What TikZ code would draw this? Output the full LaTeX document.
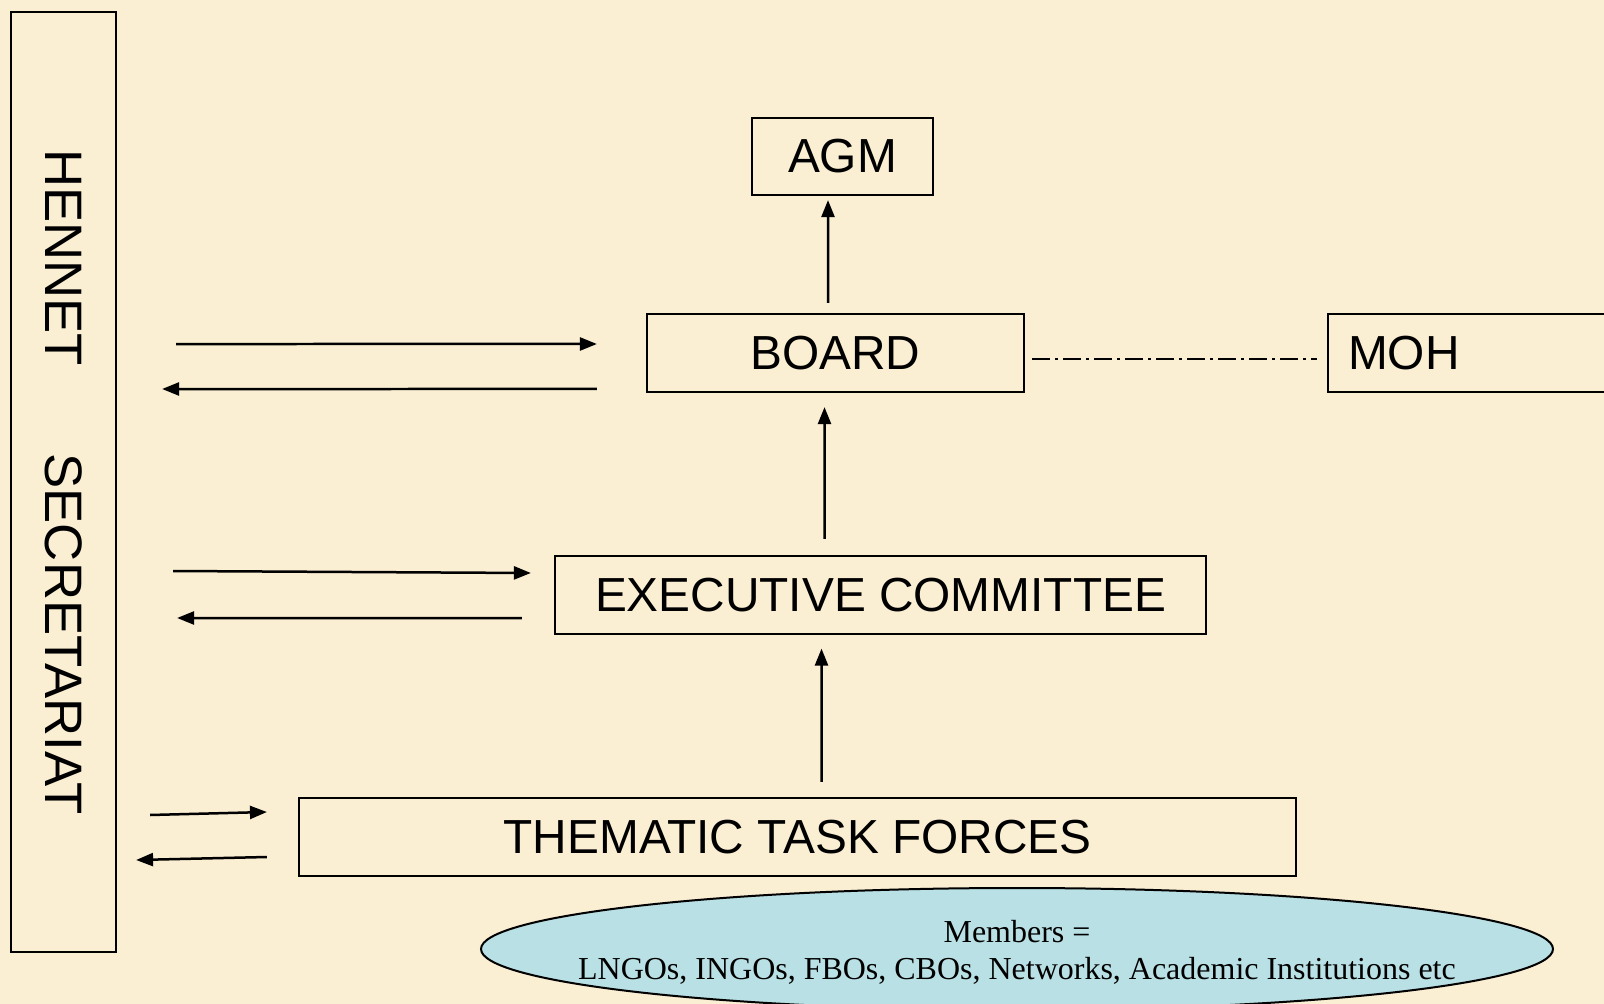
\documentclass[tikz,border=0pt]{standalone}
\usepackage{fontspec}
\usepackage{graphicx}
\setmainfont{Liberation Serif}
\setsansfont{Liberation Sans}
\usetikzlibrary{shapes.geometric,arrows.meta}
\definecolor{papel}{RGB}{250,238,211}
\definecolor{celeste}{RGB}{185,224,228}
\tikzset{
  caja/.style={draw,line width=0.22mm,inner sep=0pt,minimum height=7.8mm,font=\sffamily\fontsize{13.6pt}{16pt}\selectfont},
  flecha/.style={line width=0.25mm,-{Triangle[length=1.7mm,width=1.3mm]}},
  enlace/.style={line width=0.15mm,dash pattern=on 1.8mm off 0.5mm on 0.3mm off 0.5mm}
}

\begin{document}
\begin{tikzpicture}[x=0.1mm,y=-0.1mm]
        \fill[papel] (0,0) rectangle (1604,1004);
        \useasboundingbox (0,0) rectangle (1604,1004);
        \clip (0,0) rectangle (1604,1004);
        \node[caja,minimum width=10.5mm,minimum height=94mm] (sec) at (63.5,482) {\rotatebox{-90}{\fontsize{15pt}{18pt}\selectfont HENNET\hspace{25pt}SECRETARIAT}};
        \node[caja,minimum width=18.1mm,minimum height=7.7mm] (agm) at (842.5,156.5) {AGM};
        \node[caja,minimum width=37.7mm] (board) at (835.5,353) {BOARD};
        \node[caja,anchor=west,text width=30mm,inner xsep=2mm,align=left] (moh) at (1327,353) {MOH};
        \node[caja,minimum width=65.1mm] (exec) at (880.5,595) {EXECUTIVE COMMITTEE};
        \node[caja,minimum width=99.7mm] (ttf) at (797.5,837) {THEMATIC TASK FORCES};
        \draw[line width=0.2mm,fill=celeste] (1017,949) ellipse [x radius=53.6mm,y radius=6.1mm];
        \node[align=center,font=\fontsize{9.1pt}{10.6pt}\selectfont] (socios) at (1017,952) {Members =\\LNGOs, INGOs, FBOs, CBOs, Networks, Academic Institutions etc};
        \draw[flecha] ([xshift=-0.75mm,yshift=1mm]board.north) -- ([xshift=-1.45mm,yshift=-0.4mm]agm.south);
        \draw[flecha] ([xshift=-5.6mm,yshift=1.6mm]exec.north) -- ([xshift=-1.1mm,yshift=-1.4mm]board.south);
        \draw[flecha] ([xshift=2.4mm,yshift=1.5mm]ttf.north) -- ([xshift=-5.9mm,yshift=-1.35mm]exec.south);
        \draw[enlace] ([xshift=0.7mm,yshift=-0.6mm]board.east) -- ([xshift=-1mm,yshift=-0.6mm]moh.west);
        \draw[flecha] ([xshift=5.9mm,yshift=13.8mm]sec.east) -- ([xshift=-4.9mm,yshift=0.9mm]board.west);
        \draw[flecha] ([xshift=-4.9mm,yshift=-3.6mm]board.west) -- ([xshift=4.5mm,yshift=9.3mm]sec.east);
        \draw[flecha] ([xshift=5.6mm,yshift=-8.9mm]sec.east) -- ([xshift=-2.3mm,yshift=2.2mm]exec.west);
        \draw[flecha] ([xshift=-3.2mm,yshift=-2.3mm]exec.west) -- ([xshift=6mm,yshift=-13.6mm]sec.east);
        \draw[flecha] ([xshift=3.3mm,yshift=-33.3mm]sec.east) -- ([xshift=-3.1mm,yshift=2.5mm]ttf.west);
        \draw[flecha] ([xshift=-3.1mm,yshift=-2mm]ttf.west) -- ([xshift=1.9mm,yshift=-37.8mm]sec.east);
\end{tikzpicture}
\end{document}
